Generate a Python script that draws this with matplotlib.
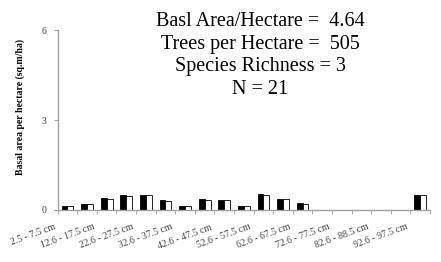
import numpy as np
import matplotlib.pyplot as plt
import matplotlib.transforms as mtrans

# diameter classes (19 classes, every other one labelled)
classes = ['2.5 - 7.5 cm', '7.6 - 12.5 cm', '12.6 - 17.5 cm', '17.6 - 22.5 cm',
           '22.6 - 27.5 cm', '27.6 - 32.5 cm', '32.6 - 37.5 cm', '37.6 - 42.5 cm',
           '42.6 - 47.5 cm', '47.6 - 52.5 cm', '52.6 - 57.5 cm', '57.6 - 62.5 cm',
           '62.6 - 67.5 cm', '67.6 - 72.5 cm', '72.6 - 77.5 cm', '77.6 - 82.5 cm',
           '82.6 - 88.5 cm', '87.6 - 92.5 cm', '92.6 - 97.5 cm']
# basal area per hectare, two series (black / white)
ba_black = [0.14, 0.21, 0.39, 0.50, 0.51, 0.34, 0.12, 0.37, 0.33, 0.14,
            0.53, 0.38, 0.22, 0, 0, 0, 0, 0, 0.50]
ba_white = [0.13, 0.20, 0.37, 0.47, 0.51, 0.30, 0.12, 0.35, 0.32, 0.13,
            0.51, 0.36, 0.21, 0, 0, 0, 0, 0, 0.50]
yticks = [0, 3, 6]
info = ['Basl Area/Hectare =  4.64', 'Trees per Hectare =  505',
        'Species Richness = 3', 'N = 21']

serif = 'Liberation Serif'
fig = plt.figure(figsize=(4.41, 2.62), dpi=100)
ax = fig.add_axes([0.1308, 0.1985, 0.8442, 0.6865])

x = np.arange(len(classes)) + 0.5
ax.bar(x - 0.15, ba_black, width=0.3, color='black', edgecolor='black', linewidth=0.6)
ax.bar(x + 0.15, ba_white, width=0.3, color='white', edgecolor='black', linewidth=0.6)

ax.set_xlim(0, len(classes))
ax.set_ylim(0, 6)
ax.set_yticks(yticks)
ax.set_yticklabels([str(t) for t in yticks], fontfamily=serif, fontsize=7, color='#404040')
ax.tick_params(axis='y', length=3, color='#a0a0a0', pad=5)

# category boundaries as ticks, labels on every other category
ax.set_xticks(np.arange(len(classes) + 1), minor=True)
ax.set_xticks(x[::2])
ax.set_xticklabels(classes[::2], rotation=20, ha='right', rotation_mode='anchor',
                   fontfamily=serif, fontsize=7, color='#404040')
ax.tick_params(axis='x', which='major', length=0, pad=9)
ax.tick_params(axis='x', which='minor', length=3, color='#a0a0a0')

off = mtrans.ScaledTranslation(-14 / 100, 0, fig.dpi_scale_trans)
for lab in ax.get_xticklabels():
    lab.set_transform(lab.get_transform() + off)

for s in ['top', 'right']:
    ax.spines[s].set_visible(False)
for s in ['left', 'bottom']:
    ax.spines[s].set_color('#a0a0a0')
    ax.spines[s].set_linewidth(1)

fig.text(0.045, 1 - 107 / 262, 'Basal area per hectare (sq.m/ha)', rotation=90,
         ha='center', va='center', fontfamily=serif, fontsize=7, fontweight='bold')

for i, line in enumerate(info):
    fig.text(260 / 441, 1 - (21 + 23 * i) / 262, line, ha='center', va='center',
             fontfamily=serif, fontsize=14.5)

fig.savefig('out.png', dpi=100)
